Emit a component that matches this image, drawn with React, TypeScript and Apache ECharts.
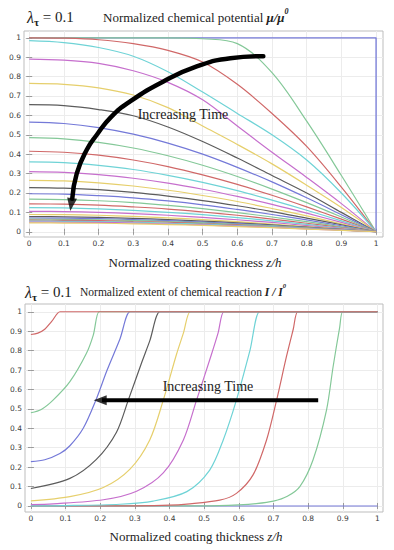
import React, { useEffect, useRef } from "react";
import * as echarts from "echarts";

// Shared sample positions (normalized coating thickness z/h)
const Z = [0, 0.1, 0.2, 0.3, 0.4, 0.5, 0.6, 0.7, 0.8, 0.9, 1];
const TICKS = [0, 0.1, 0.2, 0.3, 0.4, 0.5, 0.6, 0.7, 0.8, 0.9, 1];

// Mathematica-like colour cycle
const PALETTE = ["#7479d8", "#84c898", "#d06868", "#6fd3d6", "#c66fcd", "#e6cf6c", "#5c5c5c"];

// Top panel: normalized chemical potential mu/mu0
const MU_INITIAL: number[][] = [[0, 1], [1, 1], [1, 0]];
const MU_PROFILES: number[][] = [
  [1, 1, 1, 1, 1, 0.995, 0.97, 0.82, 0.57, 0.29, 0],
  [1, 0.998, 0.99, 0.97, 0.935, 0.875, 0.76, 0.61, 0.44, 0.23, 0],
  [0.985, 0.975, 0.95, 0.905, 0.825, 0.72, 0.61, 0.5, 0.37, 0.2, 0],
  [0.89, 0.885, 0.868, 0.83, 0.77, 0.68, 0.545, 0.41, 0.28, 0.145, 0],
  [0.765, 0.76, 0.742, 0.705, 0.64, 0.545, 0.45, 0.35, 0.24, 0.125, 0],
  [0.655, 0.65, 0.63, 0.598, 0.54, 0.465, 0.38, 0.29, 0.2, 0.1, 0],
  [0.565, 0.558, 0.537, 0.503, 0.457, 0.4, 0.332, 0.257, 0.175, 0.088, 0],
  [0.485, 0.479, 0.461, 0.432, 0.392, 0.343, 0.285, 0.22, 0.15, 0.076, 0],
  [0.415, 0.41, 0.395, 0.37, 0.336, 0.293, 0.244, 0.188, 0.128, 0.065, 0],
  [0.36, 0.356, 0.342, 0.321, 0.291, 0.255, 0.212, 0.163, 0.111, 0.056, 0],
  [0.31, 0.306, 0.295, 0.276, 0.251, 0.219, 0.182, 0.141, 0.096, 0.048, 0],
  [0.265, 0.262, 0.252, 0.236, 0.214, 0.187, 0.156, 0.12, 0.082, 0.041, 0],
  [0.228, 0.225, 0.217, 0.203, 0.184, 0.161, 0.134, 0.104, 0.07, 0.036, 0],
  [0.196, 0.194, 0.186, 0.175, 0.159, 0.139, 0.115, 0.089, 0.061, 0.031, 0],
  [0.168, 0.166, 0.16, 0.15, 0.136, 0.119, 0.099, 0.076, 0.052, 0.026, 0],
  [0.144, 0.142, 0.137, 0.128, 0.117, 0.102, 0.085, 0.065, 0.044, 0.022, 0],
  [0.124, 0.123, 0.118, 0.11, 0.1, 0.088, 0.073, 0.056, 0.038, 0.019, 0],
  [0.105, 0.104, 0.1, 0.094, 0.085, 0.074, 0.062, 0.048, 0.032, 0.016, 0],
  [0.089, 0.088, 0.085, 0.079, 0.072, 0.063, 0.052, 0.04, 0.027, 0.014, 0],
  [0.078, 0.077, 0.074, 0.069, 0.063, 0.055, 0.046, 0.035, 0.024, 0.012, 0],
  [0.071, 0.07, 0.068, 0.063, 0.057, 0.05, 0.042, 0.032, 0.022, 0.011, 0],
  [0.065, 0.064, 0.062, 0.058, 0.053, 0.046, 0.038, 0.03, 0.02, 0.01, 0],
  [0.06, 0.059, 0.057, 0.053, 0.049, 0.042, 0.035, 0.027, 0.019, 0.009, 0],
  [0.055, 0.054, 0.052, 0.049, 0.044, 0.039, 0.032, 0.025, 0.017, 0.009, 0],
  [0.05, 0.049, 0.048, 0.045, 0.04, 0.035, 0.029, 0.023, 0.015, 0.008, 0],
  [0.046, 0.045, 0.044, 0.041, 0.037, 0.033, 0.027, 0.021, 0.014, 0.007, 0],
];

// Bottom panel: normalized extent of chemical reaction I/I0 ([z, value] pairs)
const ETA_0: number[][] = [[0, 0], [1, 0]];
const ETA_1: number[][] = [[0, 0], [0.5, 0.001], [0.6, 0.006], [0.65, 0.012], [0.7, 0.025], [0.74, 0.05], [0.776, 0.1], [0.814, 0.237], [0.853, 0.494], [0.872, 0.717], [0.891, 0.92], [0.9, 1], [0.92, 1], [1, 1]];
const ETA_2: number[][] = [[0, 0], [0.3, 0.001], [0.4, 0.004], [0.45, 0.01], [0.545, 0.03], [0.593, 0.065], [0.641, 0.16], [0.68, 0.34], [0.709, 0.545], [0.7375, 0.77], [0.757, 0.91], [0.77, 1], [0.79, 1], [1, 1]];
const ETA_3: number[][] = [[0, 0.001], [0.1, 0.002], [0.257, 0.009], [0.353, 0.025], [0.45, 0.074], [0.516, 0.185], [0.555, 0.34], [0.593, 0.545], [0.632, 0.8], [0.66, 1], [0.68, 1], [1, 1]];
const ETA_4: number[][] = [[0, 0.007], [0.064, 0.011], [0.209, 0.032], [0.305, 0.076], [0.382, 0.17], [0.44, 0.34], [0.478, 0.545], [0.52, 0.775], [0.54, 0.89], [0.557, 1], [0.577, 1], [1, 1]];
const ETA_5: number[][] = [[0, 0.026], [0.1125, 0.048], [0.209, 0.095], [0.286, 0.19], [0.343, 0.34], [0.382, 0.545], [0.42, 0.78], [0.44, 0.89], [0.46, 1], [0.48, 1], [1, 1]];
const ETA_6: number[][] = [[0, 0.09], [0.1125, 0.142], [0.189, 0.24], [0.247, 0.38], [0.281, 0.545], [0.32, 0.74], [0.343, 0.85], [0.372, 1], [0.392, 1], [1, 1]];
const ETA_7: number[][] = [[0, 0.228], [0.04, 0.238], [0.0837, 0.27], [0.1125, 0.31], [0.151, 0.4], [0.1875, 0.545], [0.22, 0.7], [0.257, 0.86], [0.286, 1], [0.306, 1], [1, 1]];
const ETA_8: number[][] = [[0, 0.48], [0.03, 0.497], [0.064, 0.545], [0.1125, 0.64], [0.16, 0.785], [0.18, 0.88], [0.197, 1], [0.217, 1], [1, 1]];
const ETA_9: number[][] = [[0, 0.883], [0.02, 0.89], [0.04, 0.91], [0.06, 0.95], [0.084, 1], [0.1, 1], [1, 1]];
const ETA_PROFILES = [ETA_0, ETA_1, ETA_2, ETA_3, ETA_4, ETA_5, ETA_6, ETA_7, ETA_8, ETA_9];

// Annotation arrows (data coordinates)
const ARROW_TOP: number[][] = [[0.675, 0.905], [0.58, 0.895], [0.483, 0.852], [0.387, 0.775], [0.291, 0.672], [0.235, 0.59], [0.195, 0.5], [0.166, 0.423], [0.137, 0.3], [0.124, 0.17]];
const ARROW_TOP_HEAD: number[] = [0.121, 0.14];
const ARROW_BOTTOM: number[][] = [[0.829, 0.545], [0.205, 0.545]];
const ARROW_BOTTOM_HEAD: number[] = [0.2, 0.545];

const SERIF = "'Liberation Serif', 'Times New Roman', serif";
const SANS = "'DejaVu Sans', 'Liberation Sans', sans-serif";

function xAxisFor(gridIndex: number, position: string, min: number, max: number, labels: boolean) {
  return {
    type: "value",
    gridIndex,
    position,
    min,
    max,
    axisLine: { show: false },
    axisTick: { show: true, inside: true, length: 3, customValues: TICKS, lineStyle: { color: "#9a9a9a", width: 1 } },
    axisLabel: {
      show: labels,
      customValues: TICKS,
      margin: 2,
      fontSize: 7.5,
      color: "#3a3a3a",
      fontFamily: SANS,
      formatter: (v: number) => String(Math.round(v * 10) / 10),
    },
    splitLine: { show: labels, lineStyle: { color: "#ececec", width: 1 } },
  };
}

function yAxisFor(gridIndex: number, position: string, min: number, max: number, labels: boolean) {
  return {
    type: "value",
    gridIndex,
    position,
    min,
    max,
    axisLine: { show: false },
    axisTick: { show: true, inside: true, length: 3, customValues: TICKS, lineStyle: { color: "#9a9a9a", width: 1 } },
    axisLabel: {
      show: labels,
      customValues: TICKS,
      margin: 3,
      fontSize: 7.5,
      color: "#3a3a3a",
      fontFamily: SANS,
      formatter: (v: number) => String(Math.round(v * 10) / 10),
    },
    splitLine: { show: labels, lineStyle: { color: "#ececec", width: 1 } },
  };
}

function titleRich(size: number) {
  return {
    l: { fontFamily: SERIF, fontSize: size + 2, fontStyle: "italic", fill: "#222", lineHeight: 20 },
    s: { fontFamily: SERIF, fontSize: size - 3, fontWeight: "bold", fill: "#222", verticalAlign: "bottom", lineHeight: 20 },
    n: { fontFamily: SERIF, fontSize: size + 1, fill: "#222", lineHeight: 20 },
    t: { fontFamily: SERIF, fontSize: size, fill: "#222", lineHeight: 20 },
    m: { fontFamily: SERIF, fontSize: size, fontStyle: "italic", fontWeight: "bold", fill: "#222", lineHeight: 20 },
    p: { fontFamily: SERIF, fontSize: size - 5, fontStyle: "italic", fontWeight: "bold", fill: "#222", verticalAlign: "top", lineHeight: 20 },
  };
}

export default function App() {
  const ref = useRef<HTMLDivElement>(null);

  useEffect(() => {
    if (!ref.current) return;
    const chart = echarts.init(ref.current, undefined, { renderer: "svg" });

    const series: any[] = [];
    // top panel
    series.push({
      type: "line", xAxisIndex: 0, yAxisIndex: 0, data: MU_INITIAL, symbol: "none", silent: true,
      lineStyle: { color: PALETTE[0], width: 1.3 },
    });
    MU_PROFILES.forEach((ys, i) => {
      series.push({
        type: "line", xAxisIndex: 0, yAxisIndex: 0, symbol: "none", silent: true, smooth: 0.35,
        data: Z.map((z, j) => [z, ys[j]]),
        lineStyle: { color: PALETTE[(i + 1) % 7], width: 1.2 },
      });
    });
    series.push({
      type: "line", xAxisIndex: 0, yAxisIndex: 0, symbol: "none", silent: true, smooth: 0.5, z: 10,
      data: ARROW_TOP, lineStyle: { color: "#000", width: 4.5, cap: "round" },
    });
    series.push({
      type: "scatter", xAxisIndex: 0, yAxisIndex: 0, silent: true, z: 11,
      data: [ARROW_TOP_HEAD], symbol: "triangle", symbolSize: [10, 13], symbolRotate: 172,
      itemStyle: { color: "#000" },
    });
    // bottom panel
    ETA_PROFILES.forEach((pts, i) => {
      series.push({
        type: "line", xAxisIndex: 2, yAxisIndex: 2, symbol: "none", silent: true, smooth: 0.3,
        data: pts, lineStyle: { color: PALETTE[i % 7], width: 1.2 },
      });
    });
    series.push({
      type: "line", xAxisIndex: 2, yAxisIndex: 2, symbol: "none", silent: true, z: 10,
      data: ARROW_BOTTOM, lineStyle: { color: "#000", width: 4 },
    });
    series.push({
      type: "scatter", xAxisIndex: 2, yAxisIndex: 2, silent: true, z: 11,
      data: [ARROW_BOTTOM_HEAD], symbol: "triangle", symbolSize: [10, 13], symbolRotate: 90,
      itemStyle: { color: "#000" },
    });

    chart.setOption({
      animation: false,
      backgroundColor: "#ffffff",
      grid: [
        { left: 24, top: 31, width: 359, height: 206, show: true, borderColor: "#bdbdbd", borderWidth: 1, backgroundColor: "#fff", containLabel: false, outerBoundsMode: "none" },
        { left: 25, top: 304, width: 358, height: 208, show: true, borderColor: "#bdbdbd", borderWidth: 1, backgroundColor: "#fff", containLabel: false, outerBoundsMode: "none" },
      ],
      xAxis: [
        xAxisFor(0, "bottom", -0.015, 1.02, true),
        xAxisFor(0, "top", -0.015, 1.02, false),
        xAxisFor(1, "bottom", -0.017, 1.016, true),
        xAxisFor(1, "top", -0.017, 1.016, false),
      ],
      yAxis: [
        yAxisFor(0, "left", -0.027, 1.035, true),
        yAxisFor(0, "right", -0.027, 1.035, false),
        yAxisFor(1, "left", -0.031, 1.04, true),
        yAxisFor(1, "right", -0.031, 1.04, false),
      ],
      series,
      graphic: [
        { type: "text", x: 27, y: 17, silent: true, style: { text: "{l|λ}{s|τ}{n| = 0.1}", rich: titleRich(14), verticalAlign: "middle", align: "left" } },
        { type: "text", x: 103, y: 17, silent: true, style: { text: "{t|Normalized chemical potential }{m|μ/μ}{p|0}", rich: titleRich(13), verticalAlign: "middle", align: "left" } },
        { type: "text", x: 195, y: 262, silent: true, style: { text: "{t|Normalized coating thickness }{i|z/h}", rich: { t: { fontFamily: SERIF, fontSize: 13, fill: "#222" }, i: { fontFamily: SERIF, fontSize: 13, fontStyle: "italic", fill: "#222" } }, verticalAlign: "middle", align: "center" } },
        { type: "text", x: 183, y: 114, silent: true, z: 20, style: { text: "Increasing Time", fontFamily: SERIF, fontSize: 14, fill: "#222", verticalAlign: "middle", align: "center" } },
        { type: "text", x: 25, y: 292, silent: true, style: { text: "{l|λ}{s|τ}{n| = 0.1}", rich: titleRich(14), verticalAlign: "middle", align: "left" } },
        { type: "text", x: 80, y: 292, silent: true, style: { text: "{t|Normalized extent of chemical reaction }{m|I / I}{p|0}", rich: titleRich(11.5), verticalAlign: "middle", align: "left" } },
        { type: "text", x: 196, y: 536, silent: true, style: { text: "{t|Normalized coating thickness }{i|z/h}", rich: { t: { fontFamily: SERIF, fontSize: 13, fill: "#222" }, i: { fontFamily: SERIF, fontSize: 13, fontStyle: "italic", fill: "#222" } }, verticalAlign: "middle", align: "center" } },
        { type: "text", x: 208, y: 386, silent: true, z: 20, style: { text: "Increasing Time", fontFamily: SERIF, fontSize: 14, fill: "#222", verticalAlign: "middle", align: "center" } },
      ],
    });

    return () => chart.dispose();
  }, []);

  return <div ref={ref} style={{ position: "absolute", left: 0, top: 0, width: 394, height: 550, background: "#fff" }} />;
}
